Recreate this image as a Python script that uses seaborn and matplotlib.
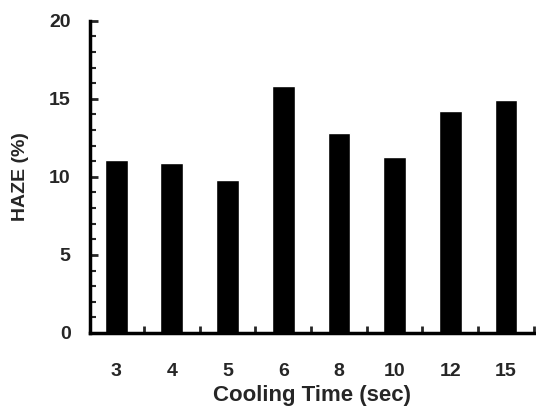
import numpy as np
import pandas as pd
import seaborn as sns
from matplotlib import pyplot as plt
from matplotlib.ticker import MultipleLocator, FixedLocator

# cooling time categories and measured haze
cooling_time = ["3", "4", "5", "6", "8", "10", "12", "15"]
haze = [11.1, 10.9, 9.8, 15.8, 12.8, 11.3, 14.2, 14.9]

df = pd.DataFrame({"Cooling Time (sec)": cooling_time, "HAZE (%)": haze})

sns.set_style("ticks")
plt.rcParams["font.family"] = ["Liberation Sans", "DejaVu Sans"]
plt.rcParams["font.weight"] = "bold"

fig = plt.figure(figsize=(5.36, 4.08), dpi=100)
ax = fig.add_axes([0.168, 0.184, 0.83, 0.765])

sns.barplot(data=df, x="Cooling Time (sec)", y="HAZE (%)", order=cooling_time,
            color="black", width=0.41, saturation=1, ax=ax)

ax.set_ylim(0, 20)
ax.set_xlim(-0.47, len(cooling_time) - 0.48)
ax.yaxis.set_major_locator(MultipleLocator(5))
ax.yaxis.set_minor_locator(MultipleLocator(1))
ax.xaxis.set_minor_locator(FixedLocator(np.arange(len(cooling_time)) + 0.5))

ax.tick_params(axis="y", which="major", direction="in", length=6, width=2,
               labelsize=14, pad=14)
ax.tick_params(axis="y", which="minor", direction="in", length=4, width=1.5)
ax.tick_params(axis="x", which="major", length=0, labelsize=14, pad=22)
ax.tick_params(axis="x", which="minor", direction="in", length=5, width=2)

for lab in ax.get_xticklabels() + ax.get_yticklabels():
    lab.set_fontweight("bold")

ax.set_xlabel("Cooling Time (sec)", fontsize=16, fontweight="bold", labelpad=3)
ax.set_ylabel("HAZE (%)", fontsize=14, fontweight="bold", labelpad=14)

sns.despine(ax=ax)
for side in ["left", "bottom"]:
    ax.spines[side].set_linewidth(2.5)
    ax.spines[side].set_color("black")

fig.savefig("out.png", dpi=100)
